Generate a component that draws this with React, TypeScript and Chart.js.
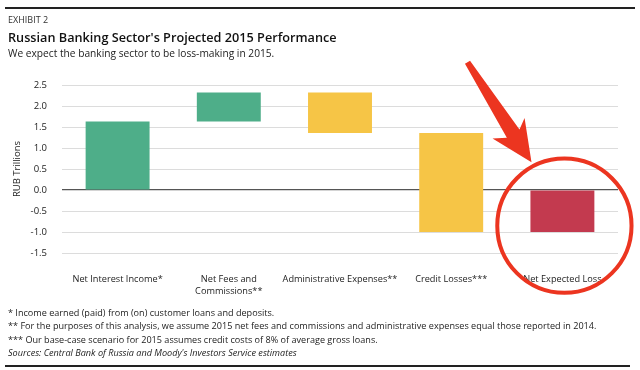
import React, { useEffect, useRef } from "react";
import { Chart, registerables } from "chart.js";

Chart.register(...registerables);

const categories: (string | string[])[] = [
  "Net Interest Income*",
  ["Net Fees and", "Commissions**"],
  "Administrative Expenses**",
  "Credit Losses***",
  "Net Expected Loss",
];
const barLow = [0, 1.63, 1.36, -1.0, -1.0];
const barHigh = [1.63, 2.32, 2.32, 1.36, 0];
const barColors = ["#4eae89", "#4eae89", "#f6c546", "#f6c546", "#c33a4f"];
const yTicks = [2.5, 2.0, 1.5, 1.0, 0.5, 0.0, -0.5, -1.0, -1.5];
const footnotes = [
  "* Income earned (paid) from (on) customer loans and deposits.",
  "** For the purposes of this analysis, we assume 2015 net fees and commissions and administrative expenses equal those reported in 2014.",
  "*** Our base-case scenario for 2015 assumes credit costs of 8% of average gross loans.",
];
const sourceText = "Sources: Central Bank of Russia and Moody's Investors Service estimates";

const FONT = "'Open Sans', 'Noto Sans', sans-serif";

const annotationPlugin = {
  id: "circleArrow",
  afterDatasetsDraw(chart: any) {
    const meta = chart.getDatasetMeta(0);
    const bar = meta.data[meta.data.length - 1];
    if (!bar) return;
    const y = chart.scales.y;
    const ctx = chart.ctx;
    const cx = bar.x + 2;
    const cy = y.getPixelForValue(-0.85);
    const r = bar.width * 1.05;
    ctx.save();
    ctx.strokeStyle = "#ec3520";
    ctx.fillStyle = "#ec3520";
    ctx.lineWidth = 4;
    ctx.beginPath();
    ctx.ellipse(cx, cy, r, r, 0, 0, Math.PI * 2);
    ctx.stroke();
    // arrow
    const tip = { x: cx - r * 0.49, y: cy - r * 0.945 };
    const tail = { x: tip.x - 64, y: tip.y - 100 };
    const dx = tip.x - tail.x, dy = tip.y - tail.y;
    const len = Math.hypot(dx, dy);
    const ux = dx / len, uy = dy / len;
    const nx = -uy, ny = ux;
    const headLen = 38;
    const bx = tip.x - ux * headLen, by = tip.y - uy * headLen;
    const p = (px: number, py: number, w: number) => [px + nx * w, py + ny * w];
    const pts = [
      p(tail.x, tail.y, 3),
      p(bx + ux * 4, by + uy * 4, 7.5),
      p(bx - ux * 3, by - uy * 3, 20),
      [tip.x, tip.y],
      p(bx - ux * 3, by - uy * 3, -18),
      p(bx + ux * 4, by + uy * 4, -7.5),
      p(tail.x, tail.y, -3),
    ];
    ctx.beginPath();
    ctx.moveTo(pts[0][0], pts[0][1]);
    for (let i = 1; i < pts.length; i++) ctx.lineTo(pts[i][0], pts[i][1]);
    ctx.closePath();
    ctx.fill();
    ctx.restore();
  },
};

export default function App() {
  const ref = useRef<HTMLCanvasElement>(null);
  useEffect(() => {
    document.body.style.margin = "0";
    const chart = new Chart(ref.current!, {
      type: "bar",
      data: {
        labels: categories,
        datasets: [
          {
            data: barLow.map((lo, i) => [lo, barHigh[i]]) as any,
            backgroundColor: barColors,
            borderWidth: 0,
            categoryPercentage: 1,
            barPercentage: 0.575,
          },
        ],
      },
      options: {
        animation: false,
        responsive: false,
        maintainAspectRatio: false,
        layout: { padding: { top: 85, right: 22, left: 0, bottom: 0 } },
        plugins: { legend: { display: false }, tooltip: { enabled: false } },
        scales: {
          x: {
            grid: { display: false },
            border: { display: false },
            ticks: {
              color: "#222",
              font: { family: FONT, size: 9.2, lineHeight: 1.3 },
              padding: 12,
              maxRotation: 0,
              autoSkip: false,
            },
            afterFit(scale: any) {
              scale.height = 370 - 253;
            },
          },
          y: {
            min: -1.5,
            max: 2.5,
            afterBuildTicks(scale: any) {
              scale.ticks = yTicks.map((v) => ({ value: v }));
            },
            ticks: {
              color: "#222",
              font: { family: FONT, size: 9.5 },
              padding: 15,
              callback: (v: any) => Number(v).toFixed(1),
            },
            grid: {
              drawTicks: false,
              color: (c: any) => (c.tick && c.tick.value === 0 ? "#555" : "#dcdcdc"),
              lineWidth: (c: any) => (c.tick && c.tick.value === 0 ? 1.2 : 1),
            },
            border: { display: false },
            title: {
              display: true,
              text: "RUB Trillions",
              color: "#222",
              font: { family: FONT, size: 9.5 },
              padding: { top: 12, bottom: 0 },
            },
            afterFit(scale: any) {
              scale.width = 62;
            },
          },
        },
      },
      plugins: [annotationPlugin],
    });
    return () => chart.destroy();
  }, []);

  const abs = (top: number, extra: React.CSSProperties = {}): React.CSSProperties => ({
    position: "absolute",
    top,
    left: 8,
    whiteSpace: "nowrap",
    fontFamily: FONT,
    color: "#222",
    ...extra,
  });

  return (
    <div style={{ position: "relative", width: 640, height: 370, background: "#fff", overflow: "hidden" }}>
      <canvas ref={ref} width={640} height={370} style={{ position: "absolute", left: 0, top: 0 }} />
      <div style={{ position: "absolute", left: 5, top: 7, width: 630, height: 2, background: "#222" }} />
      <div style={abs(13, { fontSize: 9, lineHeight: "14px", color: "#333" })}>EXHIBIT 2</div>
      <div style={abs(27, { fontSize: 12.7, lineHeight: "20px", fontWeight: 600, color: "#111" })}>
        Russian Banking Sector's Projected 2015 Performance
      </div>
      <div style={abs(44.5, { fontSize: 10.2, lineHeight: "16px" })}>
        We expect the banking sector to be loss-making in 2015.
      </div>
      {footnotes.map((t, i) => (
        <div key={i} style={abs(305.5 + i * 13.5, { fontSize: 9.1, lineHeight: "13.5px" })}>
          {t}
        </div>
      ))}
      <div style={abs(305.5 + 3 * 13.5, { fontSize: 9.1, lineHeight: "13.5px", fontStyle: "italic" })}>
        {sourceText}
      </div>
      <div style={{ position: "absolute", left: 5, top: 364.5, width: 625, height: 2, background: "#222" }} />
    </div>
  );
}
